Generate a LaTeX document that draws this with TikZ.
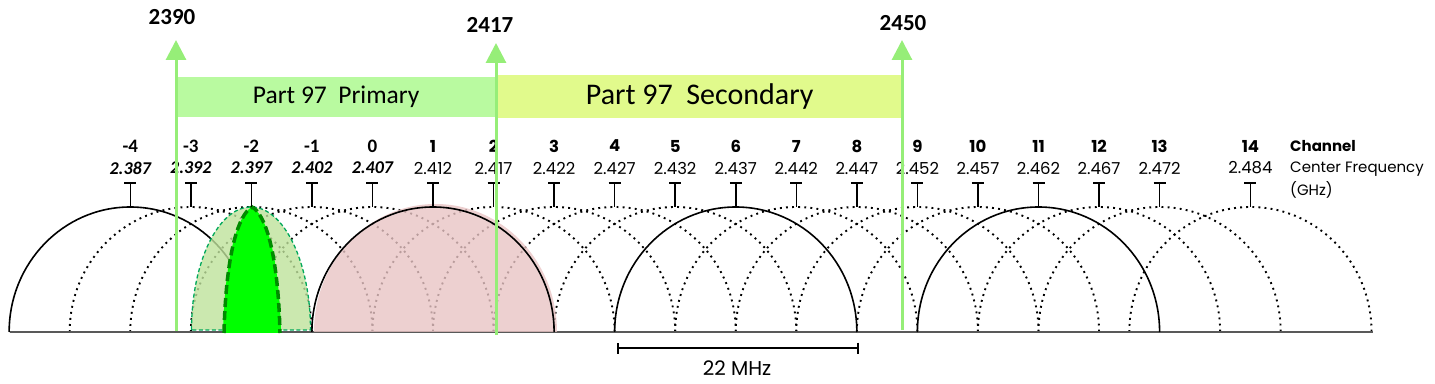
\documentclass[tikz,border=0pt]{standalone}
\usepackage{fontspec}
\setmainfont{Carlito}
\newfontfamily\geofont{Poppins}
\usetikzlibrary{arrows.meta}
\definecolor{primgreen}{RGB}{185,250,160}
\definecolor{secgreen}{RGB}{225,250,140}
\definecolor{lineg}{RGB}{150,238,120}
\definecolor{pinkfill}{RGB}{232,196,196}
\definecolor{palegreen}{RGB}{190,226,155}
\definecolor{palerim}{RGB}{0,168,90}
\definecolor{brightg}{RGB}{0,255,0}
\definecolor{darkrim}{RGB}{0,140,0}
\tikzset{
  solidarch/.style={line width=1.6pt},
  dotarch/.style={line width=1.9pt,dash pattern=on 1.9pt off 4.2pt},
  tickT/.style={line width=1.5pt},
  freqline/.style={draw=lineg,line width=3pt,-{Triangle[width=20pt,length=20pt]}},
  freqlab/.style={font=\fontsize{23}{26}\selectfont\bfseries},
  negch/.style={font=\fontsize{19}{21}\selectfont\bfseries},
  negfq/.style={font=\fontsize{18}{20}\selectfont\bfseries\itshape},
  posch/.style={font=\geofont\fontsize{16.5}{18}\selectfont\bfseries},
  posfq/.style={font=\geofont\fontsize{16.5}{18}\selectfont},
  legend/.style={anchor=west,inner sep=0pt,font=\geofont\fontsize{15}{17}\selectfont},
  bandbox/.style={inner sep=0pt,anchor=south west}
}
\begin{document}
\begin{tikzpicture}[x=1pt,y=1pt]
  \useasboundingbox (0,0) rectangle (1435,383);
  \node[bandbox,fill=primgreen,minimum width=320pt,minimum height=40pt,
    font=\fontsize{25.5}{28}\selectfont] (prim) at (176,266) {Part 97~ Primary};
  \node[bandbox,fill=secgreen,minimum width=407pt,minimum height=43pt,
    font=\fontsize{30}{33}\selectfont] (sec) at (496,265) {Part 97~ Secondary};
  \foreach \p in {-4,-3,-2,-1,1,2,3,4,6,7,8,9,11,12,13.5} {
    \pgfmathsetmacro\cx{433+60.55*\p}
    \draw[dotarch] ({\cx-121.1},51) arc[start angle=180,end angle=0,x radius=121.1pt,y radius=125pt]; }
  \draw[line width=1.8pt,black!65] (10,51) -- (1373,51);
  \fill[pinkfill,fill opacity=.8] (314,51) arc[start angle=180,end angle=0,x radius=121.5pt,y radius=128pt] -- cycle;
  \foreach \p in {-5,0,5,10} {
    \pgfmathsetmacro\cx{433+60.55*\p}
    \draw[solidarch] ({\cx-121.1},51) arc[start angle=180,end angle=0,x radius=121.1pt,y radius=125pt]; }
  \draw[palerim,fill=palegreen,fill opacity=.8,line width=1.3pt,dash pattern=on 4pt off 2.5pt]
    (191.5,53) arc[start angle=180,end angle=0,x radius=59.5pt,y radius=123pt] -- cycle;
  \fill[brightg] (223,50) .. controls (225,132) and (239,169) .. (252,176)
    .. controls (265,169) and (279,132) .. (281,50) -- cycle;
  \draw[darkrim,line width=3.5pt,dash pattern=on 9pt off 4pt] (224,50) .. controls (226,132) and (239,169) .. (252,176)
    .. controls (265,169) and (278,132) .. (280,50);
  \foreach \n/\f in {-4/2.387,-3/2.392,-2/2.397,-1/2.402,0/2.407} {
    \pgfmathsetmacro\cx{433+60.55*(\n-1)}
    \node[negch] (ch\n) at (\cx,237) {\n}; \node[negfq] (fq\n) at (\cx,215) {\f};
    \draw[tickT] ({\cx-6},200) -- ({\cx+6},200) (\cx,200) -- (\cx,176); }
  \foreach \n/\p/\f in {1/0/2.412,2/1/2.417,3/2/2.422,4/3/2.427,5/4/2.432,6/5/2.437,7/6/2.442,
      8/7/2.447,9/8/2.452,10/9/2.457,11/10/2.462,12/11/2.467,13/12/2.472,14/13.5/2.484} {
    \pgfmathsetmacro\cx{433+60.55*\p}
    \node[posch] (ch\n) at (\cx,237) {\n}; \node[posfq] (fq\n) at (\cx,215) {\f};
    \draw[tickT] ({\cx-6},200) -- ({\cx+6},200) (\cx,200) -- (\cx,176); }
  \node[legend,font=\geofont\fontsize{15}{17}\selectfont\bfseries] (chlab) at (1290,237) {Channel};
  \node[legend] (fqlab) at (1290,214) {Center Frequency};
  \node[legend] (ghzlab) at (1290,193) {(GHz)};
  \foreach \f/\x/\b/\t/\lx/\ly in {2390/176/52/343/172/366,2417/496/48/340/490/358,2450/902/53/343/903/360} {
    \coordinate (lo\f) at (\x,\b); \coordinate (hi\f) at (\x,\t);
    \draw[freqline] (lo\f) -- (hi\f);
    \node[freqlab] (lab\f) at (\lx,\ly) {\f}; }
  \coordinate (bwl) at (617,35); \coordinate (bwr) at (859,35);
  \draw[line width=2pt,{Bar[width=11pt]}-{Bar[width=11pt]}] (bwl) -- (bwr);
  \node[posfq,font=\geofont\fontsize{20}{22}\selectfont] (bw) at (737,15) {22 MHz};
\end{tikzpicture}
\end{document}
